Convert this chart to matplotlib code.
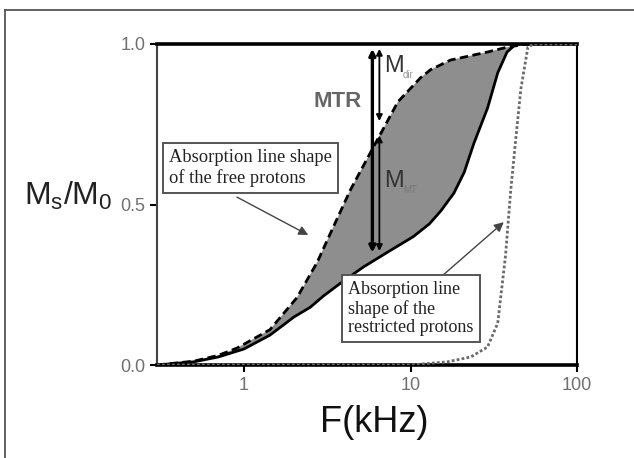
import matplotlib
matplotlib.use("Agg")
import matplotlib.pyplot as plt
from matplotlib.lines import Line2D
import numpy as np

# Free-proton curve (dashed, upper edge of the shaded area)
free_f = [0.3, 0.5, 0.7, 0.91, 1.43, 2.08, 2.75, 3.3, 4.35, 6.0, 8.4, 11.5, 13.2, 17.4, 29, 38, 50, 100]
free_m = [0.0, 0.012, 0.03, 0.053, 0.11, 0.21, 0.32, 0.41, 0.545, 0.68, 0.82, 0.895, 0.92, 0.95, 0.975, 0.99, 1.0, 1.0]

# Curve with MT (solid, lower edge of the shaded area)
mt_f = [0.3, 0.5, 0.7, 1.0, 1.43, 2.0, 2.5, 3.0, 3.8, 5.2, 7.2, 10.4, 13, 15.2, 18.2, 21, 24, 29, 33.4, 38, 43, 100]
mt_m = [0.0, 0.01, 0.025, 0.05, 0.093, 0.15, 0.18, 0.215, 0.255, 0.305, 0.35, 0.40, 0.44, 0.48, 0.535, 0.6, 0.69, 0.80, 0.91, 0.975, 1.0, 1.0]

# Restricted-proton curve (dotted)
res_f = [0.3, 5, 10, 16.7, 23, 29, 33.4, 37.2, 40, 42.8, 46, 50.7, 55, 100]
res_m = [0.0, 0.0, 0.0, 0.01, 0.025, 0.056, 0.13, 0.34, 0.545, 0.70, 0.86, 0.99, 1.0, 1.0]

x_ticks = [1, 10, 100]
x_tick_labels = ["1", "10", "100"]
y_ticks = [0.0, 0.5, 1.0]
y_tick_labels = ["0.0", "0.5", "1.0"]

# arrow positions (frequency, from, to)
mtr_arrow = (5.9, 0.985, 0.35)
mdir_arrow = (6.5, 0.985, 0.76)
mmt_arrow = (6.5, 0.715, 0.355)

W, H = 634, 458
fig = plt.figure(figsize=(W / 100, H / 100), dpi=100)
L, R, T, B = 157, 577, 44, 365
ax = fig.add_axes([L / W, 1 - B / H, (R - L) / W, (B - T) / H])

def ax_px(px, py):
    # pixel position -> axes fraction
    return (px - L) / (R - L), (B - py) / (B - T)

# outer frame of the picture (left and top edges)
fig.add_artist(Line2D([4.5 / W, 4.5 / W], [0, 1 - 9.5 / H], transform=fig.transFigure, color="#555555", lw=1.3))
fig.add_artist(Line2D([4.5 / W, 1], [1 - 9.5 / H, 1 - 9.5 / H], transform=fig.transFigure, color="#555555", lw=1.3))

# shaded area between the two curves
ax.fill(np.concatenate([free_f, mt_f[::-1]]), np.concatenate([free_m, mt_m[::-1]]),
        color="#8e8e8e", lw=0, zorder=1)
ax.plot(free_f, free_m, color="black", lw=2, dashes=(3, 1.6), zorder=3)
ax.plot(mt_f, mt_m, color="black", lw=2, zorder=3)
ax.plot(res_f, res_m, color="#6a6a6a", lw=2, ls=(0, (1, 0.8)), zorder=3)

ax.set_xscale("log")
ax.set_xlim(0.3, 100)
ax.set_ylim(0, 1)
ax.set_xticks(x_ticks)
ax.set_xticklabels(x_tick_labels)
ax.xaxis.set_minor_locator(matplotlib.ticker.NullLocator())
ax.set_yticks(y_ticks)
ax.set_yticklabels(y_tick_labels)
ax.tick_params(axis="both", direction="out", length=5, width=1.5, pad=3.5,
               labelsize=13, labelcolor="#707070")
for lab in ax.get_xticklabels() + ax.get_yticklabels():
    lab.set_family("Liberation Sans")

ax.spines["top"].set_linewidth(2.6)
ax.spines["bottom"].set_linewidth(2.6)
ax.spines["left"].set_linewidth(1.5)
ax.spines["left"].set_color("#444444")
ax.spines["right"].set_linewidth(1.5)

# vertical arrows
def vert_arrow(spec, lw, heads):
    f, y0, y1 = spec
    ax.annotate("", xy=(f, y1), xytext=(f, y0),
                arrowprops=dict(arrowstyle=heads, color="black", lw=lw,
                                shrinkA=0, shrinkB=0, mutation_scale=9),
                zorder=5)

vert_arrow(mtr_arrow, 2.4, "<|-|>")
vert_arrow(mdir_arrow, 1.3, "<|-|>")
vert_arrow(mmt_arrow, 1.3, "<|-|>")

sans = "Liberation Sans"
ax.text(3.63, 0.82, "MTR", ha="center", va="center", fontsize=16, fontweight="bold",
        color="#666666", family=sans)
ax.text(*ax_px(384, 72), "M", transform=ax.transAxes, ha="left", va="baseline",
        fontsize=17, color="#333333", family=sans)
ax.text(*ax_px(403, 78), "dir", transform=ax.transAxes, ha="left", va="baseline",
        fontsize=7, color="#999999", family=sans)
ax.text(*ax_px(384, 187), "M", transform=ax.transAxes, ha="left", va="baseline",
        fontsize=17, color="#333333", family=sans)
ax.text(*ax_px(403, 193), "MT", transform=ax.transAxes, ha="left", va="baseline",
        fontsize=7, color="#777777", family=sans)

# text boxes
box = dict(boxstyle="square,pad=0.35", fc="white", ec="#555555", lw=1.4)
ax.text(*ax_px(169, 149), "Absorption line shape\nof the free protons", transform=ax.transAxes,
        ha="left", va="top", fontsize=13.3, family="Liberation Serif", color="#222222",
        bbox=box, zorder=6)
ax.text(*ax_px(348, 281), "Absorption line\nshape of the\nrestricted protons", transform=ax.transAxes,
        ha="left", va="top", fontsize=13, family="Liberation Serif", color="#222222",
        linespacing=1.12, bbox=box, zorder=6)

# pointer arrows from the boxes
ax.annotate("", xy=(2.43, 0.405), xytext=(0.907, 0.523),
            arrowprops=dict(arrowstyle="-|>", color="#444444", lw=1,
                            shrinkA=0, shrinkB=0, mutation_scale=14), zorder=4)
ax.annotate("", xy=(36.3, 0.445), xytext=(15.2, 0.274),
            arrowprops=dict(arrowstyle="-|>", color="#444444", lw=1,
                            shrinkA=0, shrinkB=0, mutation_scale=14), zorder=4)

# axis labels
fig.text(24 / W, 1 - 205 / H, r"$\mathregular{M_s/M_0}$", ha="left", va="baseline",
         fontsize=23, family=sans, color="#222222")
fig.text(374 / W, 1 - 432 / H, "F(kHz)", ha="center", va="baseline",
         fontsize=26, family=sans, color="#111111")

fig.savefig("out.png", dpi=100)
